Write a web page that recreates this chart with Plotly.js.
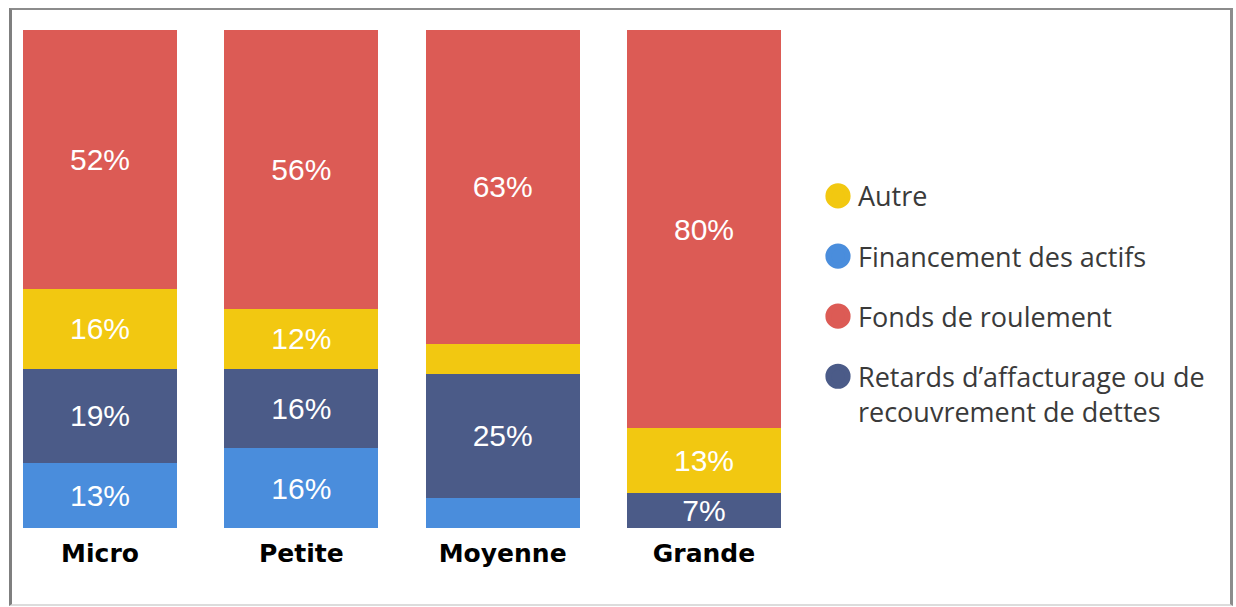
<!DOCTYPE html>
<html>
<head>
<meta charset="utf-8">
<script src="https://cdn.plot.ly/plotly-3.0.1.min.js"></script>
<style>
  html, body { margin: 0; padding: 0; background: #fff; }
  #wrap { position: relative; width: 1236px; height: 607px; }
  #chart { position: absolute; left: 0; top: 0; width: 1236px; height: 607px; }
  #frame {
    position: absolute; left: 9px; top: 8px; width: 1224px; height: 598px;
    box-sizing: border-box; pointer-events: none;
    border-top: 2px solid #8c8c8c; border-left: 3px solid #7f7f7f;
    border-right: 3px solid #8c8c8c; border-bottom: 2px solid #dcdcdc;
  }
  #chart .legend path.scatterpts { transform: translate(20px, 0px) scale(1.2); }
</style>
</head>
<body>
<div id="wrap">
  <div id="chart"></div>
  <div id="frame"></div>
</div>
<script>
// ---- Data ----
const categories = ['Micro', 'Petite', 'Moyenne', 'Grande'];
const financementActifs = [13, 16, 6, 0];
const retardsAffacturage = [19, 16, 25, 7];
const autre = [16, 12, 6, 13];
const fondsRoulement = [52, 56, 63, 80];

const seriesNames = {
  autre: 'Autre',
  financement: 'Financement des actifs',
  fonds: 'Fonds de roulement',
  retards: 'Retards d’affacturage ou de<br>recouvrement de dettes'
};
const colors = {
  autre: '#F2C811',
  financement: '#4A8DDC',
  fonds: '#DC5B55',
  retards: '#4B5B88'
};

function labels(vals) {
  return vals.map(v => (v >= 7 ? v + '%' : ''));
}

function barTrace(key, vals) {
  return {
    type: 'bar',
    x: categories,
    y: vals,
    name: seriesNames[key],
    legendgroup: key,
    showlegend: false,
    marker: { color: colors[key], line: { width: 0 } },
    text: labels(vals),
    textposition: 'inside',
    insidetextanchor: 'middle',
    constraintext: 'none',
    textfont: { family: 'Liberation Sans, Arial, sans-serif', size: 30, color: '#ffffff' },
    hoverinfo: 'x+y+name'
  };
}

function legendTrace(key) {
  return {
    type: 'scatter',
    mode: 'markers',
    x: [null],
    y: [null],
    name: seriesNames[key],
    legendgroup: key,
    showlegend: true,
    marker: { color: colors[key], size: 16, symbol: 'circle', line: { color: colors[key], width: 5 } },
    hoverinfo: 'skip'
  };
}

const data = [
  legendTrace('autre'),
  legendTrace('financement'),
  legendTrace('fonds'),
  legendTrace('retards'),
  barTrace('financement', financementActifs),
  barTrace('retards', retardsAffacturage),
  barTrace('autre', autre),
  barTrace('fonds', fondsRoulement)
];

const layout = {
  width: 1236,
  height: 607,
  margin: { l: 23, r: 455, t: 30, b: 79, pad: 0 },
  paper_bgcolor: 'rgba(0,0,0,0)',
  plot_bgcolor: 'rgba(0,0,0,0)',
  barmode: 'stack',
  bargap: 0.235,
  xaxis: {
    type: 'category',
    range: [-0.3825, 3.3825],
    showgrid: false,
    zeroline: false,
    showline: false,
    ticks: '',
    ticklabelstandoff: 8,
    tickfont: { family: 'DejaVu Sans, sans-serif', size: 25, color: '#000000', weight: 'bold' },
    fixedrange: true
  },
  yaxis: {
    range: [0, 100],
    visible: false,
    showgrid: false,
    zeroline: false,
    fixedrange: true
  },
  showlegend: true,
  legend: {
    x: 1.0488,
    xanchor: 'left',
    y: 0.45,
    yanchor: 'middle',
    valign: 'top',
    traceorder: 'grouped',
    tracegroupgap: 22,
    font: { family: 'Open Sans, sans-serif', size: 27, color: '#3a3a3a' },
    bgcolor: 'rgba(0,0,0,0)',
    borderwidth: 0
  }
};

Plotly.newPlot('chart', data, layout, { displayModeBar: false, staticPlot: false });
</script>
</body>
</html>
